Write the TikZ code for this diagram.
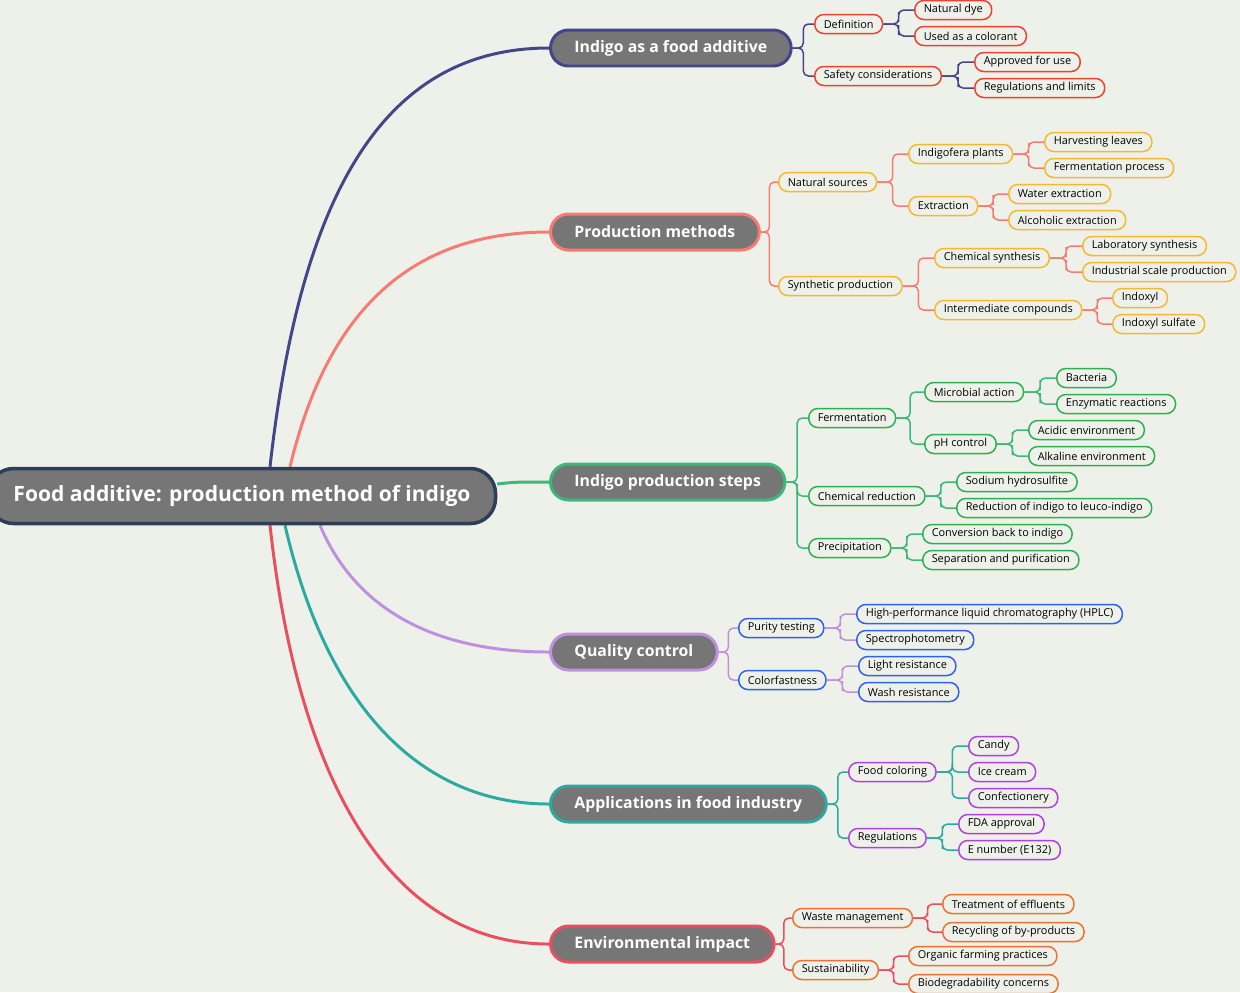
\documentclass[tikz,border=0pt]{standalone}
\usepackage{fontspec}
\setmainfont{Open Sans}
\usetikzlibrary{calc, backgrounds}
\definecolor{mmbg}{HTML}{EEF1E9}
\definecolor{mmroot}{HTML}{2C3E58}
\definecolor{mmgray}{HTML}{767676}
\definecolor{bnavy}{HTML}{45458A}
\definecolor{bsalmon}{HTML}{F77B72}
\definecolor{bgreen}{HTML}{3DB87A}
\definecolor{blav}{HTML}{C090E0}
\definecolor{bteal}{HTML}{2AAAA0}
\definecolor{bred}{HTML}{E85060}
\definecolor{lred}{HTML}{F04030}
\definecolor{lyellow}{HTML}{F5B830}
\definecolor{lgreen}{HTML}{2DB050}
\definecolor{lblue}{HTML}{3060F0}
\definecolor{lpurple}{HTML}{B040E0}
\definecolor{lorange}{HTML}{F07030}
\newcommand{\conn}[3]{\draw[#1] (#2.east) -| ($(#2.east)!0.5!(#3.west)$) |- (#3.west);}
\begin{document}
\begin{tikzpicture}[x=0.02cm, y=-0.02cm,
    rootbox/.style={draw=mmroot, line width=2pt, fill=mmgray, rounded corners=0.5cm, minimum height=1.1cm, inner xsep=0.5cm, font=\fontsize{12}{14}\selectfont\bfseries, text=white},
    mainbox/.style={line width=1.7pt, fill=mmgray, rounded corners=0.36cm, minimum height=0.72cm, anchor=west, inner xsep=0.48cm, font=\fontsize{9}{11}\selectfont\bfseries, text=white},
    leaf/.style={line width=0.85pt, fill=mmbg, rounded corners=0.18cm, minimum height=0.38cm, anchor=west, inner xsep=0.18cm, inner ysep=0pt, font=\fontsize{6.2}{7}\selectfont},
    stem/.style={line width=1.7pt},
    twig/.style={line width=0.85pt, rounded corners=0.1cm}
]
\begin{scope}[on background layer]
\fill[mmbg] (0,0) rectangle (1240,992);
\end{scope}
\useasboundingbox (0,0) rectangle (1240,992);

% Root and main branches
\node[rootbox] (root) at (242,496) {Food additive: production method of indigo};
\node[mainbox, draw=bnavy] (b1) at (549,48) {Indigo as a food additive};
\node[mainbox, draw=bsalmon] (b2) at (549,232) {Production methods};
\node[mainbox, draw=bgreen] (b3) at (549,482) {Indigo production steps};
\node[mainbox, draw=blav] (b4) at (549,652) {Quality control};
\node[mainbox, draw=bteal] (b5) at (549,804) {Applications in food industry};
\node[mainbox, draw=bred] (b6) at (549,944) {Environmental impact};

% Branch 1
\node[leaf, draw=lred] (b1a) at (814,24) {Definition};
\node[leaf, draw=lred] (b1b) at (814,76) {Safety considerations};
\node[leaf, draw=lred] (b1a1) at (914,10) {Natural dye};
\node[leaf, draw=lred] (b1a2) at (914,36) {Used as a colorant};
\node[leaf, draw=lred] (b1b1) at (974,62) {Approved for use};
\node[leaf, draw=lred] (b1b2) at (974,88) {Regulations and limits};

% Branch 2
\node[leaf, draw=lyellow] (b2a) at (778,182) {Natural sources};
\node[leaf, draw=lyellow] (b2b) at (778,286) {Synthetic production};
\node[leaf, draw=lyellow] (b2a1) at (908,154) {Indigofera plants};
\node[leaf, draw=lyellow] (b2a2) at (908,206) {Extraction};
\node[leaf, draw=lyellow] (b2a11) at (1044,142) {Harvesting leaves};
\node[leaf, draw=lyellow] (b2a12) at (1044,168) {Fermentation process};
\node[leaf, draw=lyellow] (b2a21) at (1008,194) {Water extraction};
\node[leaf, draw=lyellow] (b2a22) at (1008,220) {Alcoholic extraction};
\node[leaf, draw=lyellow] (b2b1) at (934,258) {Chemical synthesis};
\node[leaf, draw=lyellow] (b2b2) at (934,310) {Intermediate compounds};
\node[leaf, draw=lyellow] (b2b11) at (1082,246) {Laboratory synthesis};
\node[leaf, draw=lyellow] (b2b12) at (1082,272) {Industrial scale production};
\node[leaf, draw=lyellow] (b2b21) at (1112,298) {Indoxyl};
\node[leaf, draw=lyellow] (b2b22) at (1112,324) {Indoxyl sulfate};

% Branch 3
\node[leaf, draw=lgreen] (b3a) at (808,418) {Fermentation};
\node[leaf, draw=lgreen] (b3b) at (808,496) {Chemical reduction};
\node[leaf, draw=lgreen] (b3c) at (808,548) {Precipitation};
\node[leaf, draw=lgreen] (b3a1) at (924,392) {Microbial action};
\node[leaf, draw=lgreen] (b3a2) at (924,444) {pH control};
\node[leaf, draw=lgreen] (b3a11) at (1056,378) {Bacteria};
\node[leaf, draw=lgreen] (b3a12) at (1056,404) {Enzymatic reactions};
\node[leaf, draw=lgreen] (b3a21) at (1028,430) {Acidic environment};
\node[leaf, draw=lgreen] (b3a22) at (1028,456) {Alkaline environment};
\node[leaf, draw=lgreen] (b3b1) at (956,482) {Sodium hydrosulfite};
\node[leaf, draw=lgreen] (b3b2) at (956,508) {Reduction of indigo to leuco-indigo};
\node[leaf, draw=lgreen] (b3c1) at (922,534) {Conversion back to indigo};
\node[leaf, draw=lgreen] (b3c2) at (922,560) {Separation and purification};

% Branch 4
\node[leaf, draw=lblue] (b4a) at (738,628) {Purity testing};
\node[leaf, draw=lblue] (b4b) at (738,680) {Colorfastness};
\node[leaf, draw=lblue] (b4a1) at (856,614) {High-performance liquid chromatography (HPLC)};
\node[leaf, draw=lblue] (b4a2) at (856,640) {Spectrophotometry};
\node[leaf, draw=lblue] (b4b1) at (858,666) {Light resistance};
\node[leaf, draw=lblue] (b4b2) at (858,692) {Wash resistance};

% Branch 5
\node[leaf, draw=lpurple] (b5a) at (848,772) {Food coloring};
\node[leaf, draw=lpurple] (b5b) at (848,838) {Regulations};
\node[leaf, draw=lpurple] (b5a1) at (968,746) {Candy};
\node[leaf, draw=lpurple] (b5a2) at (968,772) {Ice cream};
\node[leaf, draw=lpurple] (b5a3) at (968,798) {Confectionery};
\node[leaf, draw=lpurple] (b5b1) at (958,824) {FDA approval};
\node[leaf, draw=lpurple] (b5b2) at (958,850) {E number (E132)};

% Branch 6
\node[leaf, draw=lorange] (b6a) at (792,918) {Waste management};
\node[leaf, draw=lorange] (b6b) at (792,970) {Sustainability};
\node[leaf, draw=lorange] (b6a1) at (942,904) {Treatment of effluents};
\node[leaf, draw=lorange] (b6a2) at (942,932) {Recycling of by-products};
\node[leaf, draw=lorange] (b6b1) at (908,956) {Organic farming practices};
\node[leaf, draw=lorange] (b6b2) at (908,984) {Biodegradability concerns};

\begin{scope}[on background layer]
% Curved stems from the root
\draw[stem, bnavy] (root.north) ++(28,0) .. controls (300,200) and (380,48) .. (b1.west);
\draw[stem, bsalmon] (root.north) ++(48,0) .. controls (330,300) and (420,232) .. (b2.west);
\draw[stem, bgreen] (root.east) ++(0,-12) .. controls (515,482) .. (b3.west);
\draw[stem, blav] (root.south) ++(78,0) .. controls (360,620) and (450,652) .. (b4.west);
\draw[stem, bteal] (root.south) ++(43,0) .. controls (330,720) and (430,804) .. (b5.west);
\draw[stem, bred] (root.south) ++(28,0) .. controls (300,800) and (400,944) .. (b6.west);

% Elbow connectors
\foreach \p/\c in {b1/b1a, b1/b1b, b1a/b1a1, b1a/b1a2, b1b/b1b1, b1b/b1b2}
  {\conn{twig, bnavy}{\p}{\c}}
\foreach \p/\c in {b2/b2a, b2/b2b, b2a/b2a1, b2a/b2a2, b2a1/b2a11, b2a1/b2a12, b2a2/b2a21, b2a2/b2a22, b2b/b2b1, b2b/b2b2, b2b1/b2b11, b2b1/b2b12, b2b2/b2b21, b2b2/b2b22}
  {\conn{twig, bsalmon}{\p}{\c}}
\foreach \p/\c in {b3/b3a, b3/b3b, b3/b3c, b3a/b3a1, b3a/b3a2, b3a1/b3a11, b3a1/b3a12, b3a2/b3a21, b3a2/b3a22, b3b/b3b1, b3b/b3b2, b3c/b3c1, b3c/b3c2}
  {\conn{twig, bgreen}{\p}{\c}}
\foreach \p/\c in {b4/b4a, b4/b4b, b4a/b4a1, b4a/b4a2, b4b/b4b1, b4b/b4b2}
  {\conn{twig, blav}{\p}{\c}}
\foreach \p/\c in {b5/b5a, b5/b5b, b5a/b5a1, b5a/b5a2, b5a/b5a3, b5b/b5b1, b5b/b5b2}
  {\conn{twig, bteal}{\p}{\c}}
\foreach \p/\c in {b6/b6a, b6/b6b, b6a/b6a1, b6a/b6a2, b6b/b6b1, b6b/b6b2}
  {\conn{twig, bred}{\p}{\c}}
\end{scope}
\end{tikzpicture}
\end{document}
